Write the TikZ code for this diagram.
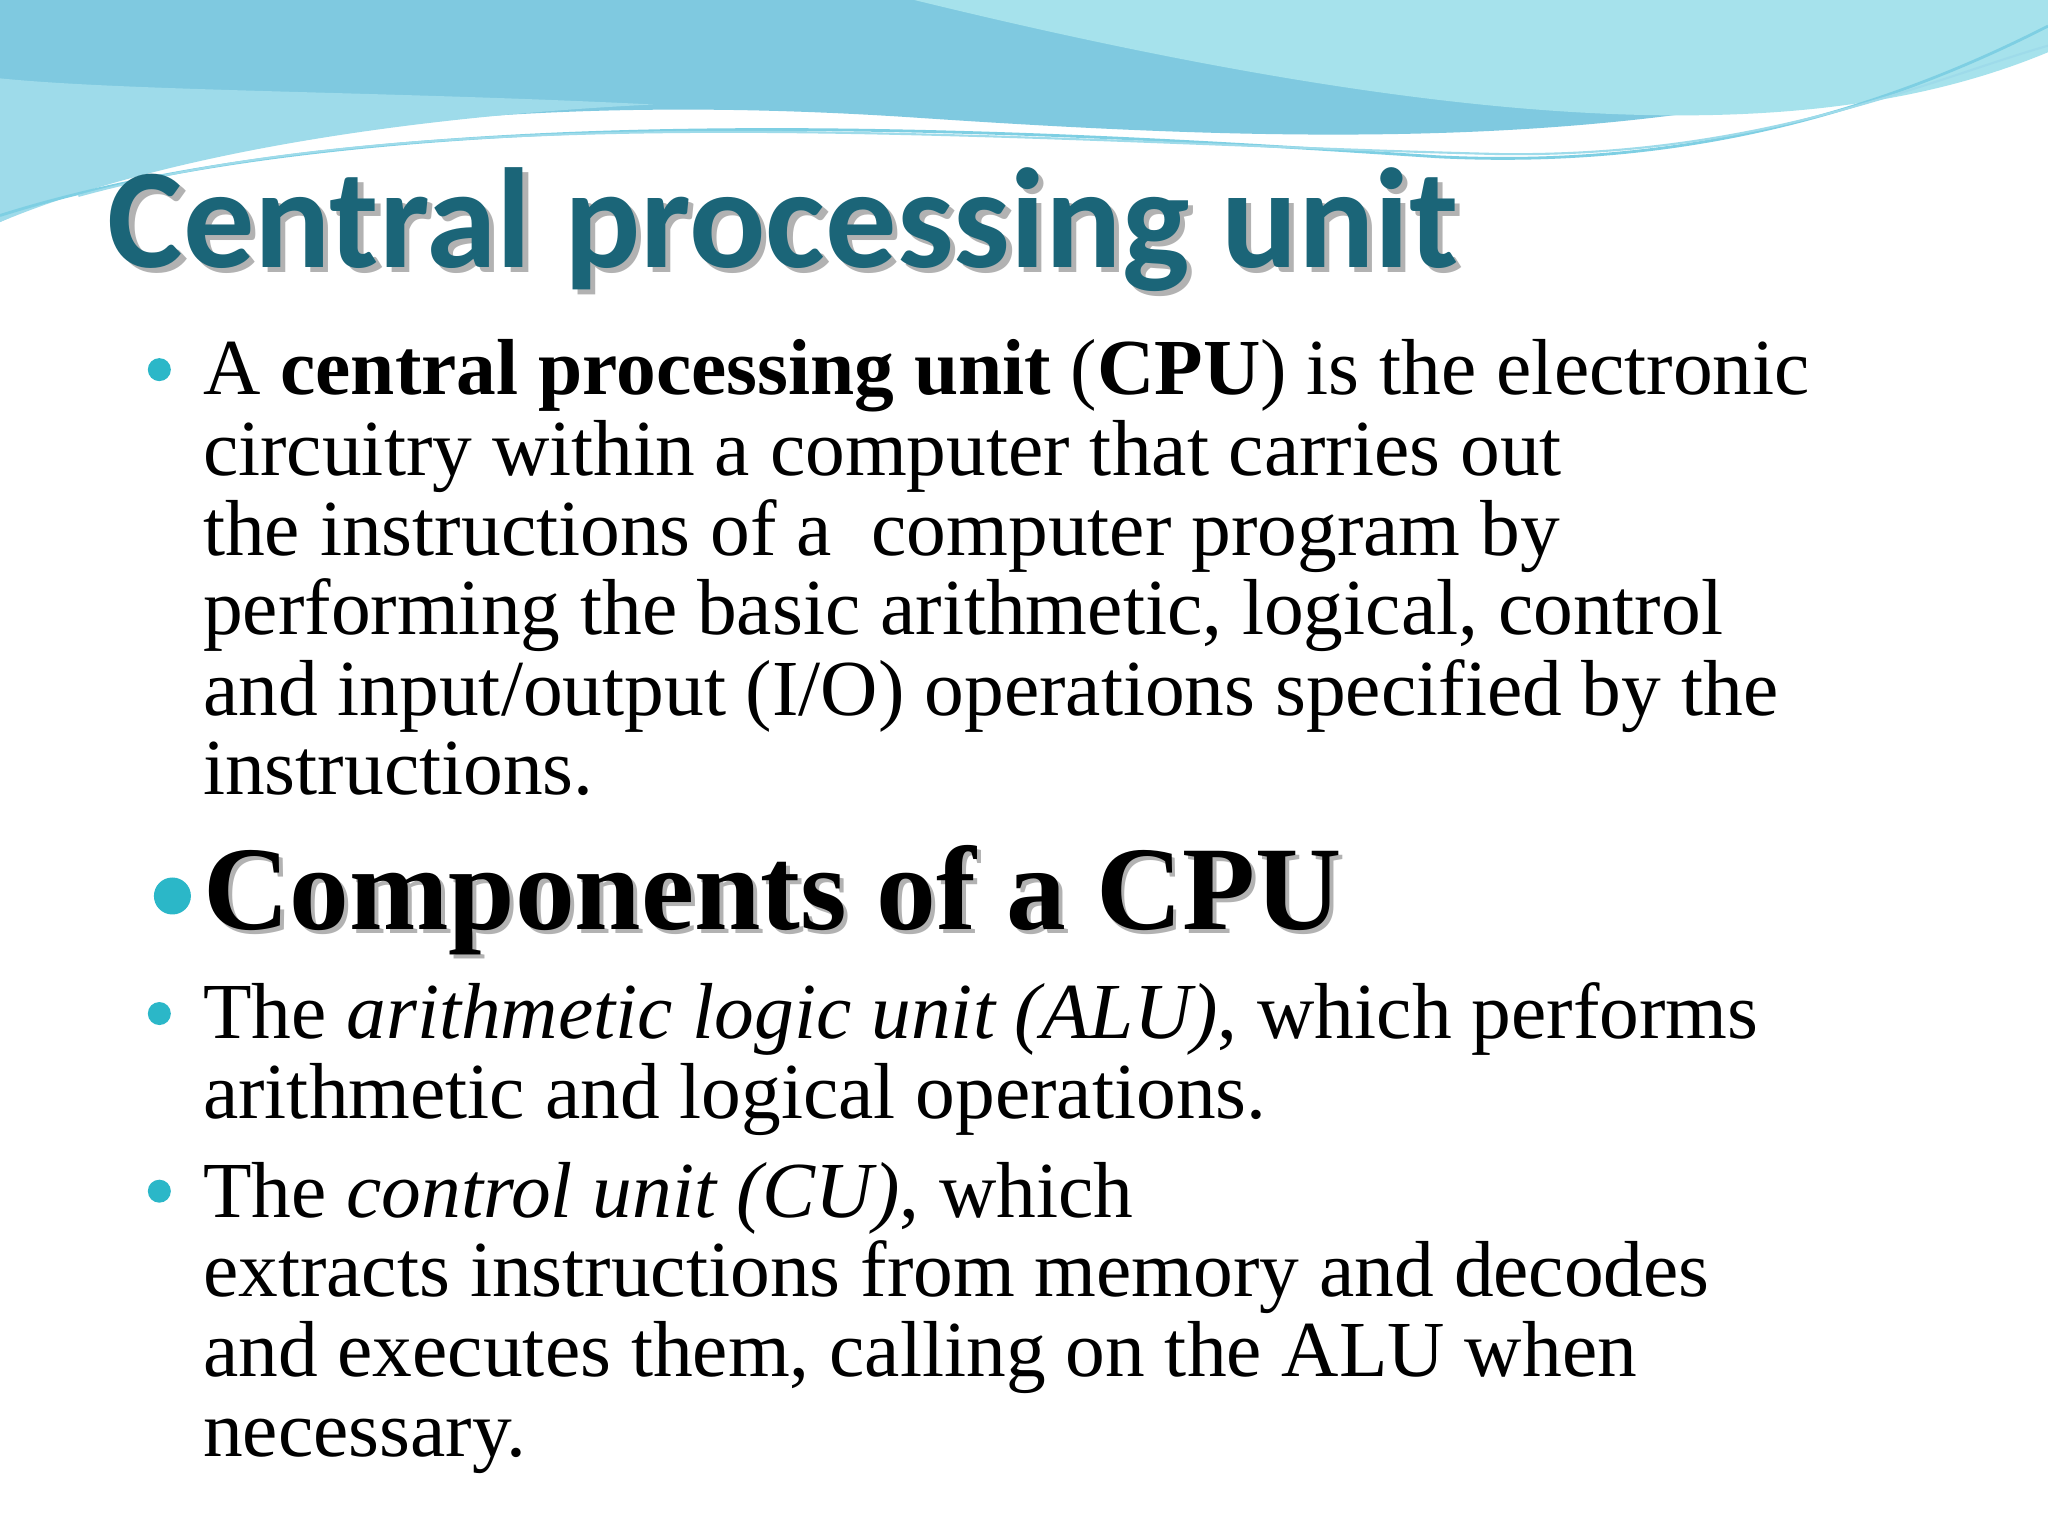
\documentclass[tikz,border=0pt]{standalone}
\usepackage{fontspec}
\setmainfont{Liberation Serif}
\newfontfamily\titlefont{Carlito}
\definecolor{teal1}{HTML}{1B6578}
\definecolor{bul}{HTML}{2BB7C8}
\definecolor{wave1}{HTML}{7FC9E0}
\definecolor{wave2}{HTML}{A6E2EC}
\definecolor{wave3}{HTML}{5EC3DC}
\tikzset{
 body/.style={anchor=base west, inner sep=0pt, font=\fontsize{22.6}{27}\selectfont},
 bulletdot/.style={circle, fill=bul, inner sep=0pt, minimum size=0.23cm}
}
\begin{document}
\begin{tikzpicture}[x=0.013061cm,y=-0.013061cm]
\useasboundingbox (0,0) rectangle (1568,1176);
\fill[white] (0,0) rectangle (1568,1176);
% waves
\fill[wave1] (0,0) -- (1568,0) -- (1568,20) .. controls (1300,120) and (1000,110) .. (700,90) .. controls (400,70) and (150,100) .. (0,170) -- cycle;
\fill[wave2] (700,0) -- (1568,0) -- (1568,40) .. controls (1400,110) and (1150,110) .. (700,0) -- cycle;
\fill[wave3!60] (0,60) -- (0,170) .. controls (120,120) and (300,90) .. (500,80) .. controls (300,70) and (100,70) .. (0,60) -- cycle;
\draw[wave3!80, line width=0.8pt] (0,165) .. controls (300,70) and (800,100) .. (1100,120) .. controls (1300,130) and (1450,80) .. (1568,20);
\draw[wave3!60, line width=0.6pt] (60,150) .. controls (350,70) and (800,110) .. (1150,118) .. controls (1350,120) and (1480,60) .. (1568,35);
% title
\node[anchor=base west, inner sep=0pt, font=\titlefont\bfseries\fontsize{40.5}{46}\selectfont, text=black, opacity=0.3] (titleshadow) at (86,209) {Central processing unit};
\node[anchor=base west, inner sep=0pt, font=\titlefont\bfseries\fontsize{40.5}{46}\selectfont, text=teal1] (title) at (82,205) {Central processing unit};
% bullets
\node[bulletdot] (b1) at (122,283) {};
\node[body] (p1a) at (155,302) {A \textbf{central processing unit} (\textbf{CPU}) is the electronic};
\node[body] (p1b) at (155,364) {circuitry within a computer that carries out};
\node[body] (p1c) at (155,425) {the instructions of a~ computer program by};
\node[body] (p1d) at (155,486) {performing the basic arithmetic, logical, control};
\node[body] (p1e) at (155,548) {and input/output (I/O) operations specified by the};
\node[body] (p1f) at (155,608) {instructions.};
\node[bulletdot, minimum size=0.37cm] (b2) at (132,686) {};
\node[anchor=base west, inner sep=0pt, font=\bfseries\fontsize{34}{40}\selectfont, text=black, opacity=0.3] (h2s) at (158,715) {Components of a CPU};
\node[anchor=base west, inner sep=0pt, font=\bfseries\fontsize{34}{40}\selectfont] (h2) at (155,712) {Components of a CPU};
\node[bulletdot] (b3) at (122,776) {};
\node[body] (p3a) at (155,795) {The \textit{arithmetic logic unit (ALU)}, which performs};
\node[body] (p3b) at (155,856) {arithmetic and logical operations.};
\node[bulletdot] (b4) at (122,912) {};
\node[body] (p4a) at (155,932) {The \textit{control unit (CU)}, which};
\node[body] (p4b) at (155,993) {extracts instructions from memory and decodes};
\node[body] (p4c) at (155,1054) {and executes them, calling on the ALU when};
\node[body] (p4d) at (155,1115) {necessary.};
\end{tikzpicture}
\end{document}
